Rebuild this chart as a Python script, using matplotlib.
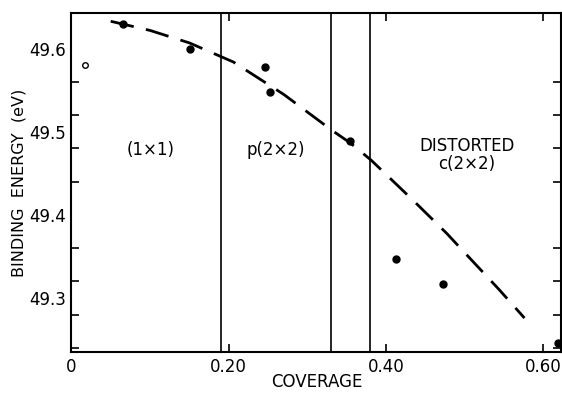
import matplotlib.pyplot as plt
import numpy as np

# measured points (filled)
cov = [0.065, 0.151, 0.246, 0.253, 0.354, 0.413, 0.472, 0.619]
energy = [49.630, 49.600, 49.578, 49.548, 49.489, 49.347, 49.317, 49.246]

# open circle
cov_open = [0.017]
energy_open = [49.580]

# dashed guide curve
curve_cov = [0.050, 0.100, 0.150, 0.206, 0.270, 0.331, 0.354, 0.381, 0.434, 0.477, 0.544, 0.576]
curve_e = [49.633, 49.622, 49.607, 49.584, 49.545, 49.502, 49.487, 49.466, 49.418, 49.378, 49.310, 49.276]

# phase boundaries
boundaries = [0.19, 0.33, 0.38]

x_ticks = [0, 0.2, 0.4, 0.6]
x_labels = ["0", "0.20", "0.40", "0.60"]
y_labels = [49.3, 49.4, 49.5, 49.6]

plt.rcParams['font.family'] = ['DejaVu Sans']
fs = 12

fig = plt.figure(figsize=(5.62, 3.93), dpi=100)
ax = fig.add_axes([0.127, 0.104, 0.872, 0.863])

for b in boundaries:
    ax.axvline(b, color="black", lw=1.2)

ax.plot(curve_cov, curve_e, color="black", lw=2.0, dashes=(8.5, 4.5))
ax.plot(cov, energy, "o", color="black", ms=5)
ax.plot(cov_open, energy_open, "o", mfc="white", mec="black", mew=1.0, ms=4)

ax.set_xlim(0, 0.623)
ax.set_ylim(49.235, 49.643)

ax.set_xticks(x_ticks)
ax.set_xticklabels(x_labels)
ax.set_yticks(y_labels)
ax.set_yticklabels([f"{v:.1f}" for v in y_labels])
ax.set_yticks(np.arange(49.24, 49.64, 0.04), minor=True)

ax.tick_params(axis="x", which="major", direction="in", length=6, width=1.2,
               top=True, labelsize=fs, pad=4)
ax.tick_params(axis="y", which="major", length=0, labelsize=fs, pad=4)
ax.tick_params(axis="y", which="minor", direction="in", length=6, width=1.2,
               right=True)

for s in ax.spines.values():
    s.set_linewidth(1.5)

ax.set_xlabel("COVERAGE", fontsize=fs, labelpad=-2)
ax.set_ylabel("BINDING  ENERGY  (eV)", fontsize=11.5, labelpad=2)

ax.text(0.101, 49.478, "(1×1)", fontsize=fs, ha="center", va="center")
ax.text(0.26, 49.478, "p(2×2)", fontsize=fs, ha="center", va="center")
ax.text(0.503, 49.483, "DISTORTED", fontsize=fs, ha="center", va="center")
ax.text(0.503, 49.461, "c(2×2)", fontsize=fs, ha="center", va="center")

fig.savefig("out.png", dpi=100)
